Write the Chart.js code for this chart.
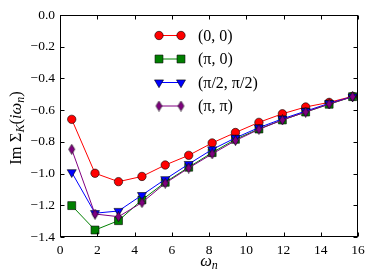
<!DOCTYPE html>
<html>
<head>
<meta charset="utf-8">
<script src="https://cdn.jsdelivr.net/npm/chart.js@4"></script>
<style>
  html, body { margin: 0; padding: 0; background: #fff; }
  canvas { display: block; }
</style>
</head>
<body>
<canvas id="chart" width="374" height="280"></canvas>
<script>
// Matsubara frequencies and Im Sigma_K(i w_n) per momentum
const omega = [0.63, 1.88, 3.14, 4.40, 5.65, 6.91, 8.17, 9.42, 10.68, 11.94, 13.19, 14.45, 15.71];
const sigma00   = [-0.658, -0.998, -1.051, -1.018, -0.946, -0.885, -0.807, -0.741, -0.677, -0.623, -0.580, -0.551, -0.513];
const sigmaPi0  = [-1.202, -1.356, -1.297, -1.166, -1.055, -0.960, -0.868, -0.784, -0.719, -0.662, -0.612, -0.563, -0.515];
const sigmaPi2  = [-0.992, -1.250, -1.236, -1.136, -1.036, -0.940, -0.848, -0.775, -0.710, -0.655, -0.606, -0.557, -0.515];
const sigmaPiPi = [-0.847, -1.255, -1.272, -1.183, -1.061, -0.965, -0.876, -0.792, -0.721, -0.662, -0.612, -0.561, -0.515];
const seriesLabels = ["(0, 0)", "(π, 0)", "(π/2, π/2)", "(π, π)"];

const xTickValues = [0, 2, 4, 6, 8, 10, 12, 14, 16];
const yTickValues = [0, -0.2, -0.4, -0.6, -0.8, -1.0, -1.2, -1.4];

const SERIF = '"Liberation Serif", "DejaVu Serif", serif';

// thin diamond marker like matplotlib's 'd'
function diamondImage(fill) {
    const c = document.createElement("canvas");
    c.width = 9; c.height = 11;
    const g = c.getContext("2d");
    g.beginPath();
    g.moveTo(4.5, 0.5); g.lineTo(7.5, 5.5); g.lineTo(4.5, 10.5); g.lineTo(1.5, 5.5);
    g.closePath();
    g.fillStyle = fill; g.fill();
    g.lineWidth = 0.6; g.strokeStyle = "#000"; g.stroke();
    return c;
}

function series(values, label, color, style, radius, rotation, order) {
    return {
        label: label,
        data: omega.map((x, i) => ({ x: x, y: values[i] })),
        borderColor: color,
        borderWidth: 1,
        backgroundColor: color,
        pointBackgroundColor: color,
        pointBorderColor: "#000",
        pointBorderWidth: 0.6,
        pointStyle: style,
        pointRadius: radius,
        pointRotation: rotation,
        tension: 0,
        order: order
    };
}

const datasets = [
    series(sigma00,   seriesLabels[0], "#ff0000", "circle",   4.2, 0,   4),
    series(sigmaPi0,  seriesLabels[1], "#008000", "rect",     5.6, 0,   3),
    series(sigmaPi2,  seriesLabels[2], "#0000ff", "triangle", 5.2, 180, 2),
    series(sigmaPiPi, seriesLabels[3], "#800080", diamondImage("#800080"), 5, 0, 1)
];

function drawRich(ctx, parts, cx, baseY) {
    let w = 0;
    parts.forEach(p => { ctx.font = p.font; w += ctx.measureText(p.t).width; });
    let x = cx - w / 2;
    ctx.textAlign = "left";
    ctx.textBaseline = "alphabetic";
    parts.forEach(p => {
        ctx.font = p.font;
        ctx.fillText(p.t, x, baseY + (p.dy || 0));
        x += ctx.measureText(p.t).width;
    });
}

const decorPlugin = {
    id: "decor",
    afterDraw(chart) {
        const { ctx, chartArea: a, scales } = chart;
        const L = Math.round(a.left) + 0.5, R = Math.round(a.right) - 0.5;
        const T = Math.round(a.top) + 0.5, B = Math.round(a.bottom) - 0.5;
        ctx.save();
        ctx.strokeStyle = "#000";
        ctx.lineWidth = 1;
        ctx.strokeRect(L, T, R - L, B - T);

        // inward ticks on all four sides
        ctx.beginPath();
        xTickValues.forEach(v => {
            const px = Math.round(scales.x.getPixelForValue(v)) + 0.5;
            ctx.moveTo(px, B); ctx.lineTo(px, B - 4);
            ctx.moveTo(px, T); ctx.lineTo(px, T + 4);
        });
        yTickValues.forEach(v => {
            const py = Math.round(scales.y.getPixelForValue(v)) + 0.5;
            ctx.moveTo(L, py); ctx.lineTo(L + 4, py);
            ctx.moveTo(R, py); ctx.lineTo(R - 4, py);
        });
        ctx.stroke();

        // legend
        const rowY = [35.5, 59, 82.5, 106];
        chart.data.datasets.forEach((ds, i) => {
            const y = rowY[i];
            ctx.strokeStyle = ds.borderColor;
            ctx.lineWidth = 1;
            ctx.beginPath();
            ctx.moveTo(159, y); ctx.lineTo(181, y);
            ctx.stroke();
            [159, 181].forEach(x => {
                ctx.fillStyle = ds.pointBackgroundColor;
                ctx.strokeStyle = "#000";
                ctx.lineWidth = ds.pointBorderWidth;
                Chart.helpers.drawPoint(ctx, {
                    pointStyle: ds.pointStyle,
                    rotation: ds.pointRotation,
                    radius: ds.pointRadius,
                    borderWidth: ds.pointBorderWidth
                }, x, y);
            });
            ctx.fillStyle = "#000";
            ctx.font = "16px " + SERIF;
            ctx.textAlign = "left";
            ctx.textBaseline = "middle";
            ctx.fillText(ds.label, 198, y + 1);
        });

        // axis titles
        ctx.fillStyle = "#000";
        const reg = "16.5px " + SERIF, it = "italic 16.5px " + SERIF, sub = "italic 12px " + SERIF;
        drawRich(ctx, [{ t: "ω", font: it }, { t: "n", font: sub, dy: 3 }], (a.left + a.right) / 2, 266);

        ctx.translate(21, (a.top + a.bottom) / 2 + 2);
        ctx.rotate(-Math.PI / 2);
        drawRich(ctx, [
            { t: "Im ", font: reg }, { t: "Σ", font: reg }, { t: "K", font: sub, dy: 3 },
            { t: "(", font: reg }, { t: "iω", font: it }, { t: "n", font: sub, dy: 3 }, { t: ")", font: reg }
        ], 0, 0);
        ctx.restore();
    }
};

new Chart(document.getElementById("chart").getContext("2d"), {
    type: "line",
    data: { datasets: datasets },
    options: {
        responsive: false,
        animation: false,
        devicePixelRatio: 1,
        layout: { padding: { left: 0, right: 16, top: 15, bottom: 0 } },
        plugins: { legend: { display: false }, tooltip: { enabled: false } },
        scales: {
            x: {
                type: "linear",
                min: 0, max: 16,
                grid: { display: false, drawTicks: false },
                border: { display: false },
                afterBuildTicks: s => { s.ticks = xTickValues.map(v => ({ value: v })); },
                afterFit: s => { s.height = 43; },
                ticks: {
                    color: "#000",
                    padding: 5,
                    font: { family: SERIF, size: 13.5 },
                    maxRotation: 0,
                    callback: v => String(v)
                }
            },
            y: {
                type: "linear",
                min: -1.4, max: 0,
                grid: { display: false, drawTicks: false },
                border: { display: false },
                afterBuildTicks: s => { s.ticks = yTickValues.map(v => ({ value: v })); },
                afterFit: s => { s.width = 60; },
                ticks: {
                    color: "#000",
                    padding: 5,
                    font: { family: SERIF, size: 13.5 },
                    callback: v => Number(v).toFixed(1).replace("-", "−")
                }
            }
        }
    },
    plugins: [decorPlugin]
});
</script>
</body>
</html>
